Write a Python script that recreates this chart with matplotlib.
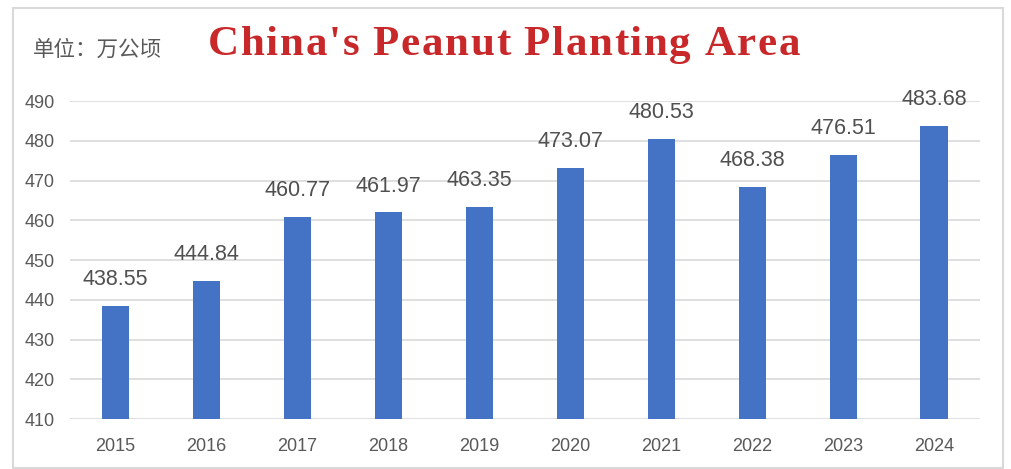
import matplotlib.pyplot as plt
from matplotlib.patches import Rectangle

plt.rcParams['font.family'] = ['Noto Sans CJK SC', 'DejaVu Sans']

years = ['2015', '2016', '2017', '2018', '2019', '2020', '2021', '2022', '2023', '2024']
area = [438.55, 444.84, 460.77, 461.97, 463.35, 473.07, 480.53, 468.38, 476.51, 483.68]
yticks = [410, 420, 430, 440, 450, 460, 470, 480, 490]
title = "China's Peanut Planting Area"

W, H = 1012, 469
fig = plt.figure(figsize=(W / 100, H / 100), dpi=100)
ax = fig.add_axes([0.069, 0.1066, 0.899, 0.678])

x = list(range(len(years)))
ax.bar(x, [v - 410 for v in area], bottom=410, width=0.3, color='#4472C4', zorder=3)

for xi, v in zip(x, area):
    ax.annotate(f'{v:.2f}', (xi, v), xytext=(0, 15), textcoords='offset points',
                ha='center', va='baseline', fontsize=15.5, color='#505050',
                family=['Liberation Sans', 'DejaVu Sans'])

ax.set_xlim(-0.5, len(years) - 0.5)
ax.set_ylim(410, 490)
ax.set_yticks(yticks)
ax.set_xticks(x)
ax.set_xticklabels(years)
ax.tick_params(axis='y', length=0, labelsize=13, labelcolor='#595959', pad=11)
ax.tick_params(axis='x', length=0, labelsize=13, labelcolor='#595959', pad=14)
for lab in ax.get_xticklabels() + ax.get_yticklabels():
    lab.set_family(['Liberation Sans', 'DejaVu Sans'])
ax.yaxis.grid(True, color='#d9d9d9', linewidth=1.2, zorder=0)
for s in ax.spines.values():
    s.set_visible(False)

# outer frame of the chart box
fig.patches.append(Rectangle((13 / W, 0.002), 990 / W, 1 - 8 / H - 0.002,
                             transform=fig.transFigure, fill=False,
                             edgecolor='#d9d9d9', linewidth=1.5))

fig.text(33 / W, 1 - 50 / H, '单位：万公顷', fontsize=15.5, color='#595959',
         ha='left', va='center')

# title drawn letter by letter so it can be letter-spaced
renderer = fig.canvas.get_renderer()
tkw = dict(fontsize=31, color='#C8282A', fontweight='bold',
           family='Liberation Serif', va='baseline', ha='left')
widths = []
for ch in title:
    if ch == ' ':
        widths.append(10.0)
        continue
    t = fig.text(0, 0, ch, **tkw)
    widths.append(t.get_window_extent(renderer).width)
    t.remove()
left, right = 208, 800
spacing = (right - left - sum(widths)) / (len(title) - 1)
cx = left
for ch, w in zip(title, widths):
    if ch != ' ':
        fig.text(cx / W, 1 - 55 / H, ch, **tkw)
    cx += w + spacing

fig.savefig('out.png', dpi=100)
